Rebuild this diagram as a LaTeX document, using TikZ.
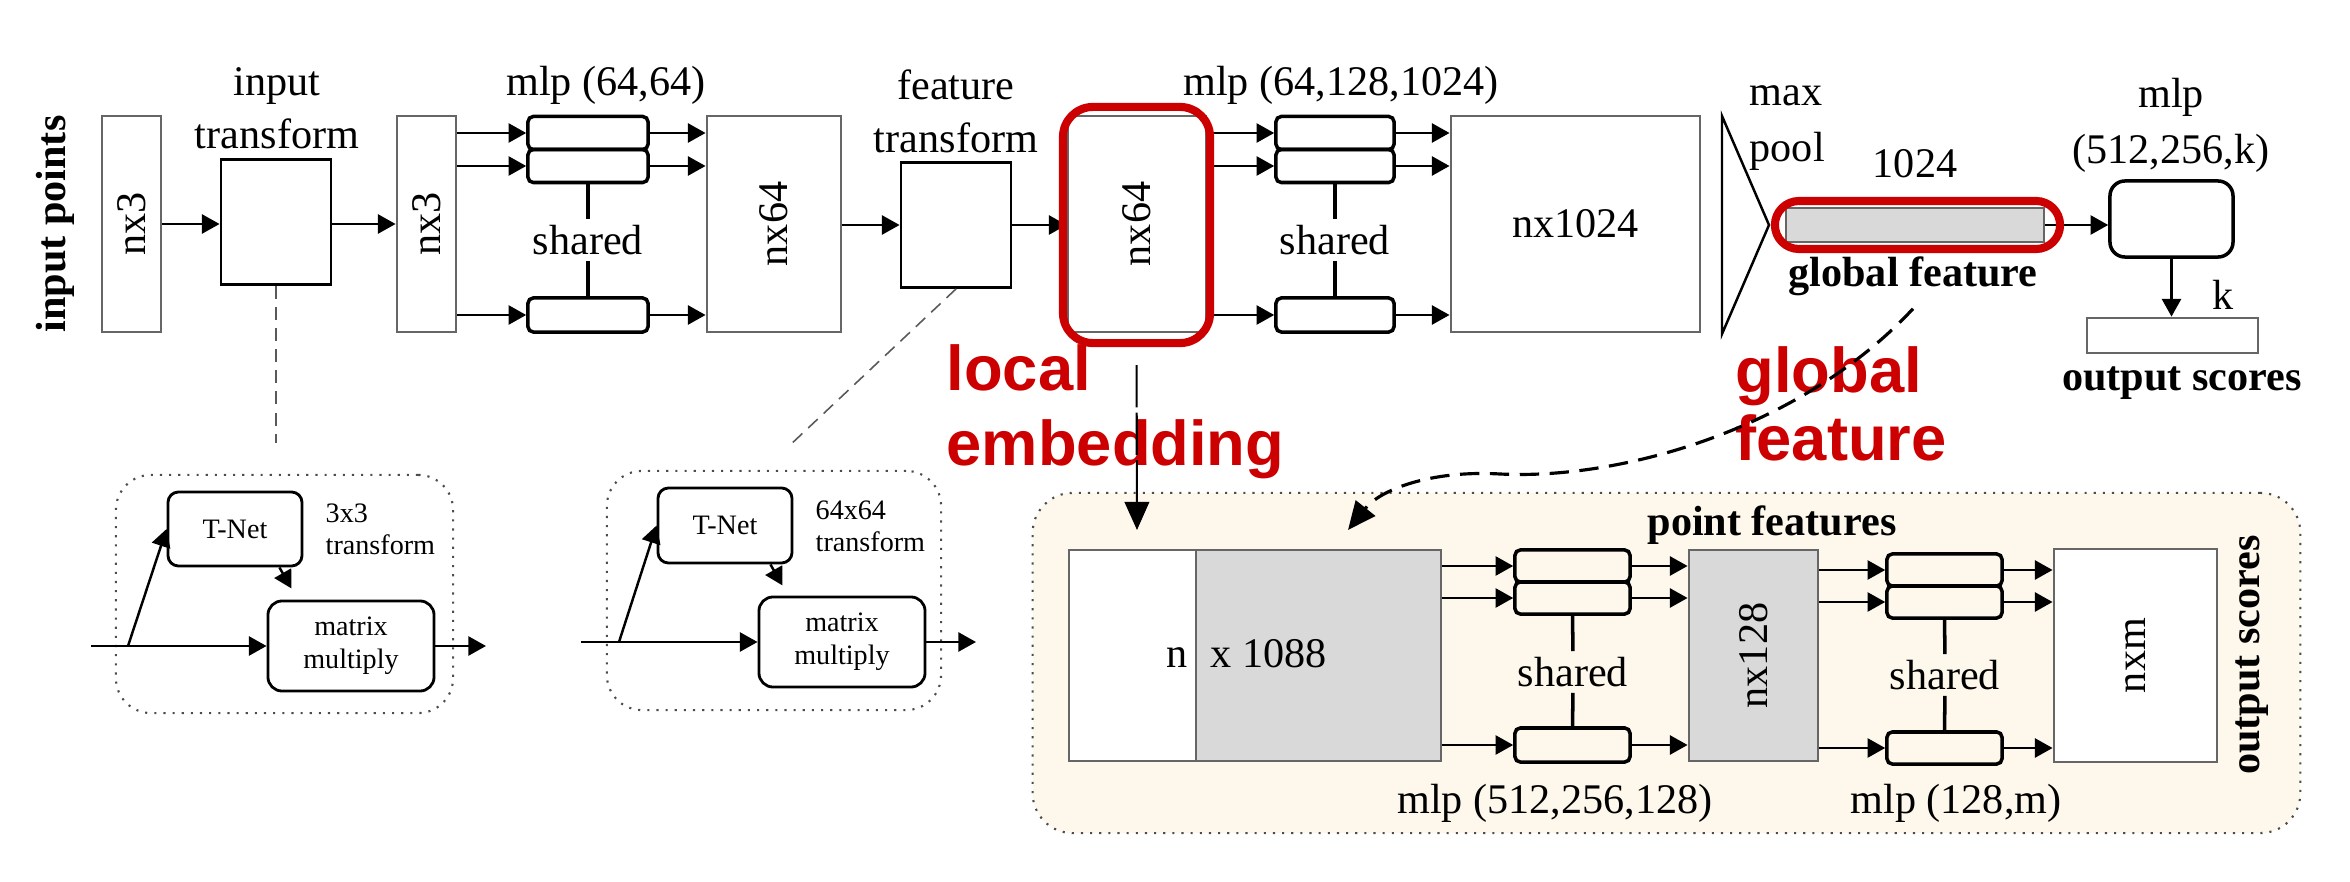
\documentclass[tikz,border=0pt]{standalone}
\usepackage{fontspec}
\setmainfont{Liberation Serif}
\newfontfamily\hfont{Liberation Sans}
\usetikzlibrary{arrows.meta}
\definecolor{pnred}{HTML}{CC0000}
\definecolor{pnbeige}{HTML}{FDF8EB}
\definecolor{pngray}{HTML}{D9D9D9}
\definecolor{pnedge}{HTML}{666666}
\begin{document}
\begin{tikzpicture}[x=0.01cm, y=-0.01cm,
  font=\fontsize{12}{15}\selectfont,
  blk/.style={draw=pnedge, line width=0.8pt, fill=white, inner sep=0pt},
  tbox/.style={draw, line width=0.8pt, inner sep=0pt, minimum width=1.1cm, minimum height=1.25cm},
  mlpb/.style={draw, line width=1pt, rounded corners=1.5pt, inner sep=0pt},
  small/.style={draw, line width=0.8pt, rounded corners=3pt, inner sep=0pt, font=\fontsize{8}{9.5}\selectfont, align=center},
  arr/.style={-{Triangle[length=5pt,width=5.4pt]}, line width=0.7pt},
  sh/.style={inner sep=1.5pt},
  ring/.style={draw=pnred, line width=2.3pt, inner sep=0pt},
  dots/.style={draw=black!70, dotted, line width=0.6pt, rounded corners=0.35cm},
  bf/.style={font=\bfseries\fontsize{12}{15}\selectfont},
  gdash/.style={draw=black!65, line width=0.45pt, dash pattern=on 3.7pt off 2.3pt},
  ldash/.style={-{Triangle[length=8pt,width=7pt]}, line width=0.6pt, dash pattern=on 12pt off 1.5pt},
  cdash/.style={-{Triangle[length=8pt,width=7pt]}, line width=0.9pt, dash pattern=on 5.5pt off 3pt},
  redtxt/.style={text=pnred, align=left, anchor=west, inner sep=0pt}]
\useasboundingbox (0,0) rectangle (2350,882);
\node[dots, fill=pnbeige, rounded corners=0.4cm, minimum width=12.67cm, minimum height=3.4cm] (seg) at (1666.5,663) {};
\node[rotate=90, bf] (ip) at (55,224) {input points};
\node[blk, minimum width=0.59cm, minimum height=2.16cm] (in0) at (131.5,224) {\rotatebox{90}{nx3}};
\node[tbox] (tr0) at (276,222) {};
\node[align=center, inner sep=0pt] (tl0) at (277,108) {input\\transform};
\node[blk, minimum width=0.59cm, minimum height=2.16cm] (in1) at (426.5,224) {\rotatebox{90}{nx3}};
\draw[arr] (in0.east) -- (in0.east -| tr0.west);
\draw[arr] (in1.west -| tr0.east) -- (in1.west);
\node[mlpb, minimum width=1.2cm, minimum height=0.33cm] (ma0) at (588,133) {};
\node[mlpb, minimum width=1.2cm, minimum height=0.33cm] (mb0) at (588,166) {};
\node[mlpb, minimum width=1.2cm, minimum height=0.34cm] (mc0) at (588,315) {};
\node[anchor=base] (ml0) at (606,96) {mlp (64,64)};
\node[sh] (sh0) at (588,240) {shared};
\draw[line width=1pt] (mb0) -- (sh0) -- (mc0);
\node[blk, minimum width=1.34cm, minimum height=2.16cm] (f0) at (774,224) {\rotatebox{90}{nx64}};
\draw[arr] (ma0.west -| in1.east) -- (ma0.west);
\draw[arr] (mb0.west -| in1.east) -- (mb0.west);
\draw[arr] (mc0.west -| in1.east) -- (mc0.west);
\draw[arr] (ma0.east) -- (ma0.east -| f0.west);
\draw[arr] (mb0.east) -- (mb0.east -| f0.west);
\draw[arr] (mc0.east) -- (mc0.east -| f0.west);
\node[tbox] (tr1) at (956,225) {};
\node[align=center, inner sep=0pt] (tl1) at (956,111) {feature\\transform};
\node[blk, minimum width=1.38cm, minimum height=2.16cm] (f1) at (1137,224) {\rotatebox{90}{nx64}};
\draw[arr] (tr1.west -| f0.east) -- (tr1.west);
\draw[arr] (tr1.east) -- (tr1.east -| f1.west);
\node[mlpb, minimum width=1.18cm, minimum height=0.33cm] (ma1) at (1335,133) {};
\node[mlpb, minimum width=1.18cm, minimum height=0.33cm] (mb1) at (1335,166) {};
\node[mlpb, minimum width=1.18cm, minimum height=0.34cm] (mc1) at (1335,315) {};
\node[anchor=base] (ml1) at (1341,96) {mlp (64,128,1024)};
\node[sh] (sh1) at (1335,240) {shared};
\draw[line width=1pt] (mb1) -- (sh1) -- (mc1);
\node[blk, minimum width=2.49cm, minimum height=2.16cm] (f2) at (1575.5,224) {nx1024};
\draw[arr] (ma1.west -| f1.east) -- (ma1.west);
\draw[arr] (mb1.west -| f1.east) -- (mb1.west);
\draw[arr] (mc1.west -| f1.east) -- (mc1.west);
\draw[arr] (ma1.east) -- (ma1.east -| f2.west);
\draw[arr] (mb1.east) -- (mb1.east -| f2.west);
\draw[arr] (mc1.east) -- (mc1.east -| f2.west);
\node[ring, rounded corners=0.3cm, minimum width=1.47cm, minimum height=2.36cm] (r1) at (1136.5,225) {};
\draw[line width=0.7pt] (1722,116) -- (1769,225) -- (1722,334) -- cycle;
\node[align=left, anchor=west, inner sep=0pt] (mp) at (1749,128) {max\\[1pt]pool};
\node[anchor=base] (gl) at (1915,178) {1024};
\node[draw=pnedge, fill=pngray, line width=0.8pt, inner sep=0pt, minimum width=2.58cm, minimum height=0.34cm] (gf) at (1915,225) {};
\node[bf, anchor=base] (gft) at (1913,287) {global feature};
\node[draw, line width=1pt, rounded corners=0.15cm, inner sep=0pt, minimum width=1.23cm, minimum height=0.76cm] (cls) at (2171.5,219) {};
\node[align=center, inner sep=0pt] (cl) at (2171,125) {mlp\\[1pt](512,256,k)};
\draw[arr] (gf.east) -- (gf.east -| cls.west);
\node[ring, rounded corners=0.24cm, minimum width=2.85cm, minimum height=0.48cm] (r2) at (1917.5,225) {};
\node[blk, minimum width=1.71cm, minimum height=0.35cm] (out) at (2172.5,335.5) {};
\draw[arr] (cls.south) -- (cls.south |- out.north);
\node[anchor=base] (k) at (2223,310) {k};
\node[bf, anchor=base] (os) at (2182,390) {output scores};
\node[redtxt, font=\hfont\bfseries\fontsize{18}{21.3}\selectfont] (loc) at (946,411.5) {local\\embedding};
\node[redtxt, font=\hfont\bfseries\fontsize{18}{19.3}\selectfont] (glo) at (1735,403.5) {global\\feature};
\coordinate (d0) at (276,443);
\coordinate (d1) at (788,447);
\draw[gdash] (tr0.south) -- (d0);
\draw[gdash] (tr1.south) -- (d1);
\coordinate (e0) at (1137,530);
\coordinate (e1) at (1348,530);
\draw[ldash, shorten <=0.18cm] (r1.south) -- (e0);
\draw[cdash] (gft.south) .. controls (1800,430) and (1620,480) .. (1500,474) .. controls (1430,470) and (1380,490) .. (e1);
\node[dots, minimum width=3.37cm, minimum height=2.38cm] (tb0) at (284.5,594) {};
\node[small, minimum width=1.34cm, minimum height=0.74cm] (tn0) at (235,529) {T-Net};
\node[small, rounded corners=4pt, minimum width=1.66cm, minimum height=0.9cm] (mm0) at (351,646) {matrix\\multiply};
\node[font=\fontsize{8}{9.1}\selectfont, align=left, anchor=west, inner sep=0pt] (tt0) at (325,529.5) {3x3\\transform};
\coordinate (a0) at (91,646);
\coordinate (b0) at (128,646);
\coordinate (c0) at (486,646);
\draw[arr] (a0) -- (mm0.west);
\draw[arr] (b0) -- (tn0.west);
\draw[arr] ([xshift=-0.24cm]tn0.south east) -- ++(12,21);
\draw[arr] (mm0.east) -- (c0);
\node[dots, minimum width=3.34cm, minimum height=2.39cm] (tb1) at (774,590.5) {};
\node[small, minimum width=1.34cm, minimum height=0.75cm] (tn1) at (725,525.5) {T-Net};
\node[small, rounded corners=4pt, minimum width=1.66cm, minimum height=0.9cm] (mm1) at (842,642) {matrix\\multiply};
\node[font=\fontsize{8}{9.1}\selectfont, align=left, anchor=west, inner sep=0pt] (tt1) at (815,526) {64x64\\transform};
\coordinate (a1) at (581,642);
\coordinate (b1) at (619,642);
\coordinate (c1) at (976,642);
\draw[arr] (a1) -- (mm1.west);
\draw[arr] (b1) -- (tn1.west);
\draw[arr] ([xshift=-0.23cm]tn1.south east) -- ++(12,21);
\draw[arr] (mm1.east) -- (c1);
\node[blk, minimum width=1.27cm, minimum height=2.11cm] (catl) at (1132.5,655.5) {};
\node[blk, fill=pngray, minimum width=2.45cm, minimum height=2.11cm] (catr) at (1318.5,655.5) {};
\node[anchor=base east, inner sep=0pt] (cn) at (1188,667) {n};
\node[anchor=base west, inner sep=0pt] (cx) at (1210,667) {x 1088};
\node[bf, anchor=base] (pf) at (1772,535) {point features};
\node[mlpb, minimum width=1.15cm, minimum height=0.32cm] (sa) at (1572.5,566) {};
\node[mlpb, minimum width=1.15cm, minimum height=0.32cm] (sb) at (1572.5,598) {};
\node[mlpb, minimum width=1.15cm, minimum height=0.34cm] (sc) at (1572.5,745) {};
\node[sh] (sh2) at (1573,672) {shared};
\draw[line width=1pt] (sb) -- (sh2) -- (sc);
\node[blk, fill=pngray, minimum width=1.29cm, minimum height=2.11cm] (s1) at (1753.5,655.5) {\rotatebox{90}{nx128}};
\node[mlpb, minimum width=1.15cm, minimum height=0.32cm] (ta) at (1944.5,570) {};
\node[mlpb, minimum width=1.15cm, minimum height=0.32cm] (tb) at (1944.5,602) {};
\node[mlpb, minimum width=1.15cm, minimum height=0.32cm] (tc) at (1944.5,748) {};
\node[sh] (sh3) at (1945,675) {shared};
\draw[line width=1pt] (tb) -- (sh3) -- (tc);
\node[blk, minimum width=1.63cm, minimum height=2.13cm] (s2) at (2135.5,655.5) {\rotatebox{90}{nxm}};
\node[rotate=90, bf] (os2) at (2252,655) {output scores};
\node[anchor=base] (ml2) at (1555,813) {mlp (512,256,128)};
\node[anchor=base] (ml3) at (1956,813) {mlp (128,m)};
\draw[arr] (sa.west -| catr.east) -- (sa.west);
\draw[arr] (sb.west -| catr.east) -- (sb.west);
\draw[arr] (sc.west -| catr.east) -- (sc.west);
\draw[arr] (sa.east) -- (sa.east -| s1.west);
\draw[arr] (sb.east) -- (sb.east -| s1.west);
\draw[arr] (sc.east) -- (sc.east -| s1.west);
\draw[arr] (ta.west -| s1.east) -- (ta.west);
\draw[arr] (tb.west -| s1.east) -- (tb.west);
\draw[arr] (tc.west -| s1.east) -- (tc.west);
\draw[arr] (ta.east) -- (ta.east -| s2.west);
\draw[arr] (tb.east) -- (tb.east -| s2.west);
\draw[arr] (tc.east) -- (tc.east -| s2.west);
\end{tikzpicture}
\end{document}
